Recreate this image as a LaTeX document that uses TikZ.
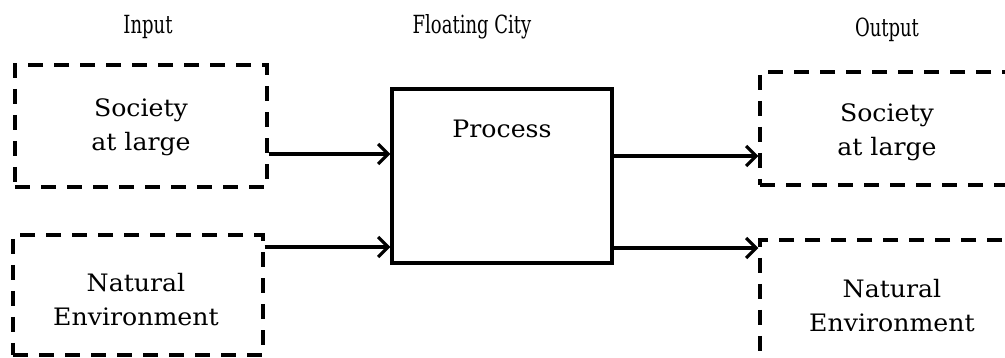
\documentclass[tikz,border=0pt]{standalone}
\usepackage{fontspec}
\setmainfont{DejaVu Serif}
\usetikzlibrary{arrows.meta}
\begin{document}
\begin{tikzpicture}[x=1pt,y=-1pt,
  lw/.style={line width=3.2pt},
  dbox/.style={lw,draw,dash pattern=on 15pt off 11pt,rectangle,inner sep=0pt},
  pbox/.style={lw,draw,rectangle,inner sep=0pt},
  txt/.style={align=center,font=\fontsize{24}{34}\selectfont,inner sep=0pt,xscale=1.05},
  head/.style={font=\fontsize{25}{28}\selectfont,inner sep=0pt,xscale=0.72},
  arr/.style={lw,-{Straight Barb[length=10pt,width=20pt,line width=3.2pt]}}]
\useasboundingbox (0,0) rectangle (1005,358);
% headers
\node[head] (hin) at (148,27) {Input};
\node[head] (hcity) at (472,27) {Floating City};
\node[head] (hout) at (887,30) {Output};
% input boxes
\node[dbox,minimum width=252pt,minimum height=122pt] (in1) at (141,126) {};
\node[txt] (in1t) at (141,127) {Society\\at large};
\node[dbox,minimum width=250pt,minimum height=120pt] (in2) at (138,295) {};
\node[txt] (in2t) at (136,300) {Natural\\Environment};
% process
\node[pbox,minimum width=220pt,minimum height=174pt] (proc) at (502,176) {};
\node[txt] (proct) at (502,129) {Process};
% output boxes (partly off the page)
\begin{scope}
\clip (0,0) rectangle (1005,358);
\node[dbox,minimum width=254pt,minimum height=113pt] (out1) at (887,128.5) {};
\node[dbox,minimum width=254pt,minimum height=150pt] (out2) at (887,315) {};
\end{scope}
\node[txt] (out1t) at (887,132) {Society\\at large};
\node[txt] (out2t) at (892,306) {Natural\\Environment};
% arrows
\coordinate (a1) at (0,154);
\coordinate (a2) at (0,247);
\coordinate (b1) at (0,156);
\coordinate (b2) at (0,248);
\draw[arr] (in1.east|-a1) -- (proc.west|-a1);
\draw[arr] (in2.east|-a2) -- (proc.west|-a2);
\draw[arr] (proc.east|-b1) -- (out1.west|-b1);
\draw[arr] (proc.east|-b2) -- (out2.west|-b2);
\end{tikzpicture}
\end{document}
